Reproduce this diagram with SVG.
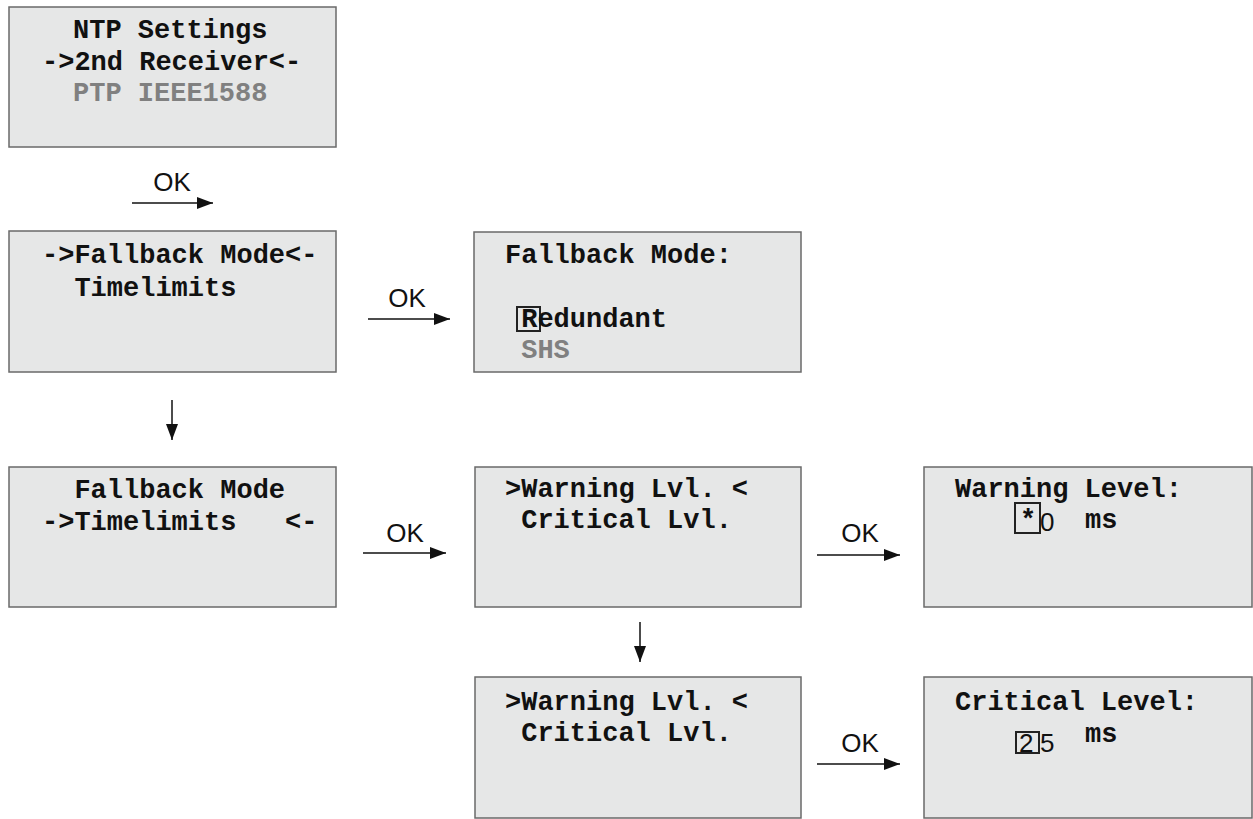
<svg xmlns="http://www.w3.org/2000/svg" width="1253" height="819" viewBox="0 0 1253 819">
<style>
.box{fill:#e6e7e7;stroke:#6a6a6a;stroke-width:1.5}
.t{font-family:"Liberation Mono","Courier New",monospace;font-weight:bold;font-size:27px;fill:#111;white-space:pre}
.g{fill:#808080}
.d{font-family:"Liberation Sans",Arial,sans-serif;font-size:26px;fill:#111}
.ok{font-family:"Liberation Sans",Arial,sans-serif;font-size:26px;fill:#111;text-anchor:middle}
.hl{fill:none;stroke:#222;stroke-width:2}
.c{stroke:#111;stroke-width:1.5;fill:none;marker-end:url(#ah)}
</style>
<defs>
<marker id="ah" viewBox="0 0 16 12" refX="16" refY="6" markerWidth="16" markerHeight="12" markerUnits="userSpaceOnUse" orient="auto">
<path d="M0,0 L16,6 L0,12 Z" fill="#111"/>
</marker>
</defs>
<rect width="1253" height="819" fill="#fff"/>
<g id="n1">
<rect class="box" x="9" y="7" width="327" height="140"/>
<text class="t" x="73" y="38">NTP Settings</text>
<text class="t" x="42" y="70">-&gt;2nd Receiver&lt;-</text>
<text class="t g" x="73" y="101">PTP IEEE1588</text>
</g>
<g id="n2">
<rect class="box" x="9" y="231" width="327" height="141"/>
<text class="t" x="42" y="263">-&gt;Fallback Mode&lt;-</text>
<text class="t" x="42" y="296" xml:space="preserve">  Timelimits</text>
</g>
<g id="n3">
<rect class="box" x="474" y="232" width="327" height="140"/>
<text class="t" x="505" y="263">Fallback Mode:</text>
<rect class="hl" x="517" y="307" width="23" height="24"/>
<text class="t" x="505" y="327" xml:space="preserve"> Redundant</text>
<text class="t g" x="505" y="358" xml:space="preserve"> SHS</text>
</g>
<g id="n4">
<rect class="box" x="9" y="467" width="327" height="140"/>
<text class="t" x="42" y="498" xml:space="preserve">  Fallback Mode</text>
<text class="t" x="42" y="530" xml:space="preserve">-&gt;Timelimits   &lt;-</text>
</g>
<g id="n5">
<rect class="box" x="475" y="467" width="326" height="140"/>
<text class="t" x="505" y="497">&gt;Warning Lvl. &lt;</text>
<text class="t" x="505" y="528" xml:space="preserve"> Critical Lvl.</text>
</g>
<g id="n6">
<rect class="box" x="924" y="467" width="328" height="140"/>
<text class="t" x="955" y="497">Warning Level:</text>
<rect class="hl" x="1015" y="503" width="25" height="30"/>
<text class="t" x="1020" y="528">*</text>
<text class="d" x="1040" y="531">0</text>
<text class="t" x="1085" y="528">ms</text>
</g>
<g id="n7">
<rect class="box" x="475" y="677" width="326" height="141"/>
<text class="t" x="505" y="710">&gt;Warning Lvl. &lt;</text>
<text class="t" x="505" y="741" xml:space="preserve"> Critical Lvl.</text>
</g>
<g id="n8">
<rect class="box" x="924" y="677" width="328" height="141"/>
<text class="t" x="955" y="710">Critical Level:</text>
<rect class="hl" x="1016" y="732" width="23" height="21"/>
<text class="d" x="1019" y="752">2</text>
<text class="d" x="1040" y="752">5</text>
<text class="t" x="1085" y="742">ms</text>
</g>
<g id="connectors">
<line class="c" x1="132" y1="203" x2="213" y2="203"/>
<text class="ok" x="172" y="191">OK</text>
<line class="c" x1="368" y1="319" x2="450" y2="319"/>
<text class="ok" x="407" y="307">OK</text>
<line class="c" x1="172" y1="400" x2="172" y2="440"/>
<line class="c" x1="363" y1="553" x2="446" y2="553"/>
<text class="ok" x="405" y="542">OK</text>
<line class="c" x1="817" y1="555" x2="900" y2="555"/>
<text class="ok" x="860" y="542">OK</text>
<line class="c" x1="640" y1="622" x2="640" y2="662"/>
<line class="c" x1="817" y1="764" x2="900" y2="764"/>
<text class="ok" x="860" y="752">OK</text>
</g>
</svg>
